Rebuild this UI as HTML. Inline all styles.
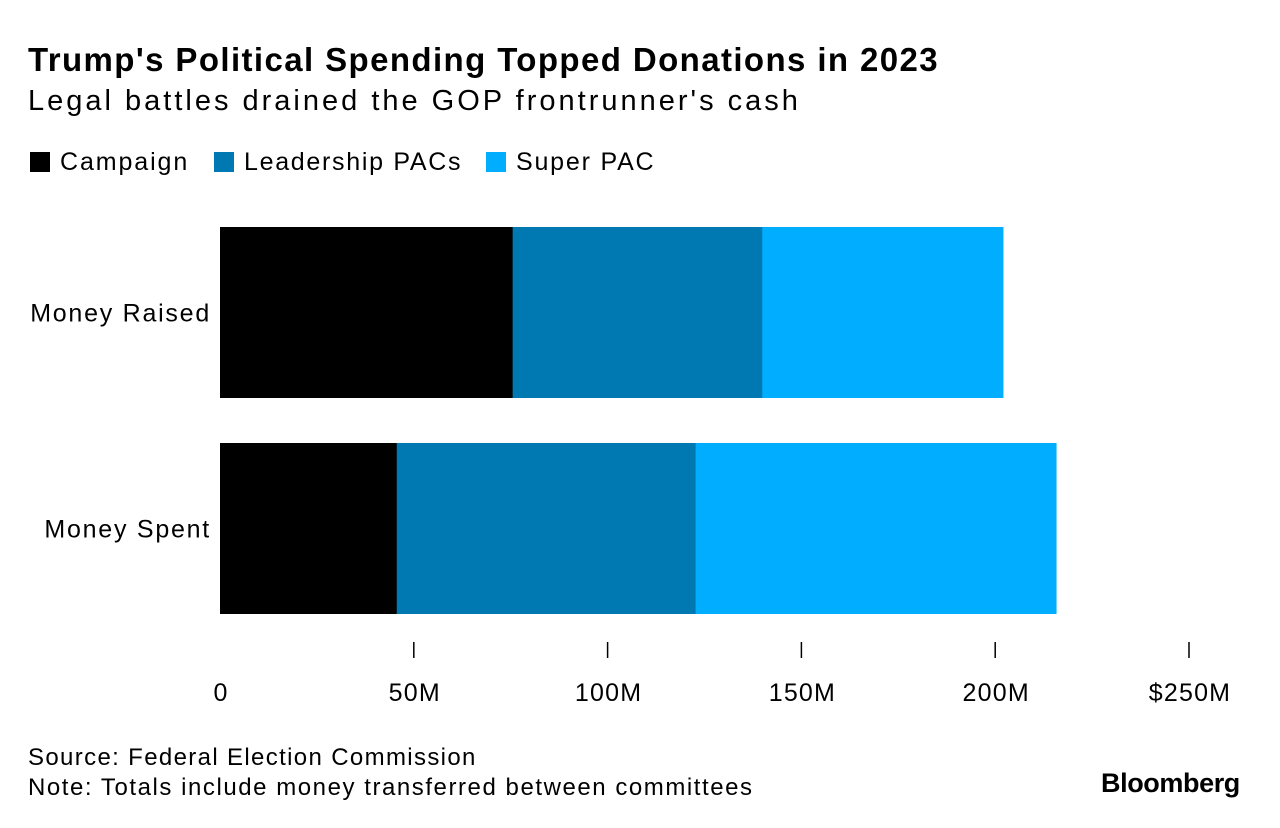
<!DOCTYPE html>
<html><head><meta charset="utf-8"><style>
body{margin:0;width:1280px;height:828px;background:#fff;font-family:"Liberation Sans",sans-serif;color:#000;position:relative;overflow:hidden}
.t{position:absolute;white-space:nowrap}
</style></head><body>
<div class="t" style="left:28px;top:41px;font-size:33px;font-weight:bold;letter-spacing:1.4px">Trump's Political Spending Topped Donations in 2023</div>
<div class="t" style="left:28px;top:85px;font-size:29px;letter-spacing:3px">Legal battles drained the GOP frontrunner's cash</div>
<div>
<div class="t" style="left:30px;top:148px;font-size:25px;letter-spacing:1.9px"><span style="display:inline-block;width:20px;height:20px;background:#000;vertical-align:-2px;margin-right:10px"></span>Campaign</div>
<div class="t" style="left:214px;top:148px;font-size:25px;letter-spacing:1.7px"><span style="display:inline-block;width:20px;height:20px;background:#0079b3;vertical-align:-2px;margin-right:10px"></span>Leadership PACs</div>
<div class="t" style="left:486px;top:148px;font-size:25px;letter-spacing:1.8px"><span style="display:inline-block;width:20px;height:20px;background:#00adff;vertical-align:-2px;margin-right:10px"></span>Super PAC</div>
</div>
<svg id="chart" width="1280" height="828" style="position:absolute;left:0;top:0"></svg>
<div class="t" style="left:28px;top:744px;font-size:24px;letter-spacing:1.35px">Source: Federal Election Commission</div>
<div class="t" style="left:28px;top:774px;font-size:24px;letter-spacing:1.55px">Note: Totals include money transferred between committees</div>
<div class="t" style="left:1101px;top:768px;font-size:27px;font-weight:bold;letter-spacing:-0.4px">Bloomberg</div>
<script>
const categories=["Money Raised","Money Spent"];
const campaign=[75.5,45.6];
const leadership=[64.4,77.1];
const superPac=[62.1,93.0];
const ticks=[0,50,100,150,200,250];
const tickLabels=["0","50M","100M","150M","200M","$250M"];
const NS="http://www.w3.org/2000/svg";
const svg=document.getElementById("chart");
const x=v=>220+v*(1189-220)/250;
const bandTop=[227,443];const bandH=171;
function el(t,a){const e=document.createElementNS(NS,t);for(const k in a)e.setAttribute(k,a[k]);svg.appendChild(e);return e;}
const series=[[campaign,"#000","campaign"],[leadership,"#0079b3","leadership-pacs"],[superPac,"#00adff","super-pac"]];
categories.forEach((c,i)=>{
  let acc=0;
  series.forEach(([vals,col,nm])=>{
    const r=el("rect",{x:x(acc),y:bandTop[i],width:x(acc+vals[i])-x(acc)+0.5,height:bandH,fill:col});
    
    
    acc+=vals[i];
  });
  const t=el("text",{x:211,y:bandTop[i]+bandH/2+9,"text-anchor":"end","font-size":"25","letter-spacing":"1.75","font-family":"Liberation Sans, sans-serif"});
  t.textContent=c;
  
  
});
ticks.forEach((v,i)=>{
  if(v>0){const l=el("line",{x1:x(v),x2:x(v),y1:642,y2:658,stroke:"#000","stroke-width":1.5});
  
  }
  const t=el("text",{x:x(v)+1,y:701,"text-anchor":"middle","font-size":"25","letter-spacing":"1.2","font-family":"Liberation Sans, sans-serif"});
  t.textContent=tickLabels[i];
  
  
});
</script>
</body></html>
